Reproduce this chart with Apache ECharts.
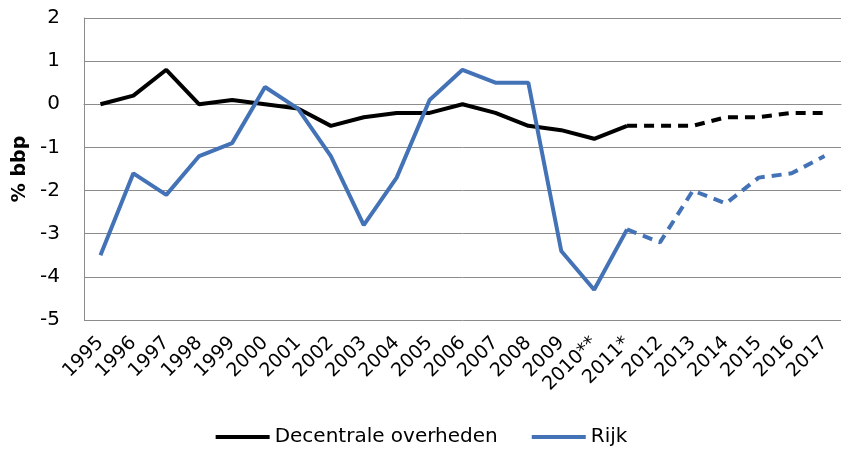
<!DOCTYPE html>
<html><head><meta charset="utf-8">
<script src="https://cdn.jsdelivr.net/npm/echarts@6/dist/echarts.min.js"></script>
<style>html,body{margin:0;padding:0;background:#fff}#c{width:843px;height:452px}</style>
</head><body><div id="c"></div>
<script>
const years = ['1995','1996','1997','1998','1999','2000','2001','2002','2003','2004','2005','2006','2007','2008','2009','2010**','2011*','2012','2013','2014','2015','2016','2017'];
const decentraal = [0,0.2,0.8,0,0.1,0,-0.1,-0.5,-0.3,-0.2,-0.2,0,-0.2,-0.5,-0.6,-0.8,-0.5,null,null,null,null,null,null];
const decentraalRaming = [null,null,null,null,null,null,null,null,null,null,null,null,null,null,null,null,-0.5,-0.5,-0.5,-0.3,-0.3,-0.2,-0.2];
const rijk = [-3.5,-1.6,-2.1,-1.2,-0.9,0.4,-0.1,-1.2,-2.8,-1.7,0.1,0.8,0.5,0.5,-3.4,-4.3,-2.9,null,null,null,null,null,null];
const rijkRaming = [null,null,null,null,null,null,null,null,null,null,null,null,null,null,null,null,-2.9,-3.2,-2.0,-2.3,-1.7,-1.6,-1.2];
const yTicks = [-5,-4,-3,-2,-1,0,1,2];
const BLUE = '#4373B6';
const FONT = 'DejaVu Sans';
const chart = echarts.init(document.getElementById('c'));
chart.setOption({
  animation:false,
  textStyle:{fontFamily:FONT},
  grid:{left:84,right:2,top:18,bottom:132,containLabel:false,outerBoundsMode:'none'},
  legend:{bottom:0,left:'center',itemWidth:54,itemHeight:4,itemGap:34,
    textStyle:{fontFamily:FONT,fontSize:20,color:'#000'},
    data:[{name:'Decentrale overheden',icon:'rect'},{name:'Rijk',icon:'rect'}]},
  xAxis:{type:'category',data:years,boundaryGap:true,
    axisLine:{lineStyle:{color:'#8c8c8c',width:1}},axisTick:{show:false},
    axisLabel:{rotate:45,interval:0,fontFamily:FONT,fontSize:19,color:'#000',margin:20}},
  yAxis:{type:'value',min:yTicks[0],max:yTicks[yTicks.length-1],interval:1,
    name:'% bbp',nameLocation:'middle',nameGap:54,nameRotate:90,
    nameTextStyle:{fontFamily:FONT,fontSize:19,fontWeight:'bold',color:'#000'},
    axisLine:{show:true,lineStyle:{color:'#8c8c8c',width:1}},axisTick:{show:false},
    axisLabel:{fontFamily:FONT,fontSize:20,color:'#000',margin:24},
    splitLine:{lineStyle:{color:'#8c8c8c',width:1}}},
  series:[
    {name:'Decentrale overheden',type:'line',data:decentraal,symbol:'none',lineStyle:{color:'#000',width:4},itemStyle:{color:'#000'}},
    {name:'Rijk',type:'line',data:rijk,symbol:'none',lineStyle:{color:BLUE,width:4},itemStyle:{color:BLUE}},
    {name:'Decentrale raming',type:'line',data:decentraalRaming,symbol:'none',lineStyle:{color:'#000',width:4,type:[10,7]},itemStyle:{color:'#000'}},
    {name:'Rijk raming',type:'line',data:rijkRaming,symbol:'none',lineStyle:{color:BLUE,width:4,type:[10,7]},itemStyle:{color:BLUE}}
  ]
});
</script></body></html>
